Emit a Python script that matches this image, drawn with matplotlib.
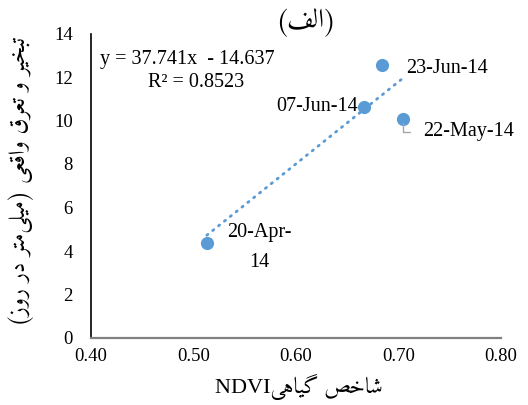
import matplotlib
matplotlib.use("Agg")
import matplotlib.pyplot as plt
import numpy as np

# data
dates = ["20-Apr-\n14", "07-Jun-14", "23-Jun-14", "22-May-14"]
ndvi = [0.513, 0.666, 0.684, 0.704]
et = [4.35, 10.63, 12.55, 10.06]
slope = 37.741
intercept = -14.637
r2 = 0.8523
xticks = [0.40, 0.50, 0.60, 0.70, 0.80]
yticks = [0, 2, 4, 6, 8, 10, 12, 14]

title_txt = "(الف)"
xlabel_txt = "شاخص گیاهی"
ylabel_txt = "تبخیر و تعرق واقعی (میلی\u200cمتر در روز)"

# matplotlib has no arabic shaping, so do it by hand with presentation forms
# (isolated, final, initial, medial); right-joining letters have only two
FORMS = {
    "\u0627": ("\uFE8D", "\uFE8E"),
    "\u0628": ("\uFE8F", "\uFE90", "\uFE91", "\uFE92"),
    "\u062A": ("\uFE95", "\uFE96", "\uFE97", "\uFE98"),
    "\u062E": ("\uFEA5", "\uFEA6", "\uFEA7", "\uFEA8"),
    "\u062F": ("\uFEA9", "\uFEAA"),
    "\u0631": ("\uFEAD", "\uFEAE"),
    "\u0632": ("\uFEAF", "\uFEB0"),
    "\u0634": ("\uFEB5", "\uFEB6", "\uFEB7", "\uFEB8"),
    "\u0635": ("\uFEB9", "\uFEBA", "\uFEBB", "\uFEBC"),
    "\u0639": ("\uFEC9", "\uFECA", "\uFECB", "\uFECC"),
    "\u0641": ("\uFED1", "\uFED2", "\uFED3", "\uFED4"),
    "\u0642": ("\uFED5", "\uFED6", "\uFED7", "\uFED8"),
    "\u0644": ("\uFEDD", "\uFEDE", "\uFEDF", "\uFEE0"),
    "\u0645": ("\uFEE1", "\uFEE2", "\uFEE3", "\uFEE4"),
    "\u0646": ("\uFEE5", "\uFEE6", "\uFEE7", "\uFEE8"),
    "\u0647": ("\uFEE9", "\uFEEA", "\uFEEB", "\uFEEC"),
    "\u0648": ("\uFEED", "\uFEEE"),
    "\u06AF": ("\uFB92", "\uFB93", "\uFB94", "\uFB95"),
    "\u06CC": ("\uFBFC", "\uFBFD", "\uFBFE", "\uFBFF"),
}


def rtl(text):
    out = []
    for i, ch in enumerate(text):
        if ch not in FORMS:
            if ch != "\u200c":
                out.append(ch)
            continue
        forms = FORMS[ch]
        prev = text[i - 1] if i > 0 else ""
        nxt = text[i + 1] if i + 1 < len(text) else ""
        jp = prev in FORMS and len(FORMS[prev]) == 4
        jn = nxt in FORMS and len(forms) == 4
        if jp and jn:
            out.append(forms[3])
        elif jp:
            out.append(forms[1])
        elif jn:
            out.append(forms[2])
        else:
            out.append(forms[0])
    swap = {"(": ")", ")": "("}
    return "".join(swap.get(c, c) for c in out[::-1])


plt.rcParams['font.family'] = ['Liberation Serif', 'Amiri']
blue = '#5B9BD5'
fs = 14.5

fig = plt.figure(figsize=(5.28, 4.05), dpi=100)
ax = fig.add_axes([91 / 528, 1 - 338 / 405, 410 / 528, 304.5 / 405])

ax.scatter(ndvi, et, s=90, color=blue, zorder=3, linewidths=0)

xs = np.array([min(ndvi), max(ndvi)])
ax.plot(xs, slope * xs + intercept, color=blue, lw=2,
        linestyle=(0, (0.5, 2.2)), dash_capstyle='round', zorder=2)

# point labels
ax.annotate(dates[0], (ndvi[0], et[0]), xytext=(38, -3), textcoords='offset points',
            ha='center', va='center', fontsize=fs, linespacing=1.75)
ax.annotate(dates[1], (ndvi[1], et[1]), xytext=(-4, 0), textcoords='offset points',
            ha='right', va='center', fontsize=fs, zorder=1)
ax.annotate(dates[2], (ndvi[2], et[2]), xytext=(17, -2.5), textcoords='offset points',
            ha='left', va='center', fontsize=fs)
ax.annotate(dates[3], (ndvi[3], et[3]), xytext=(15, -9), textcoords='offset points',
            ha='left', va='center', fontsize=fs,
            arrowprops=dict(arrowstyle='-', color='#A6A6A6', lw=1,
                            connectionstyle='angle,angleA=0,angleB=90,rad=0',
                            relpos=(0, 0.5), shrinkA=8, shrinkB=3))

ax.text(0.022, 0.915, "y = %.3fx  - %.3f" % (slope, -intercept), transform=ax.transAxes,
        ha='left', va='center', fontsize=fs)
ax.text(0.14, 0.838, "R² = %.4f" % r2, transform=ax.transAxes,
        ha='left', va='center', fontsize=fs)

ax.set_xlim(0.4, 0.8)
ax.set_ylim(0, 14)
ax.set_xticks(xticks)
ax.set_xticklabels(["%.2f" % v for v in xticks])
ax.set_yticks(yticks)
ax.tick_params(length=0, labelsize=13.5)
ax.tick_params(axis='y', pad=13)
ax.tick_params(axis='x', pad=7)

for s in ['top', 'right']:
    ax.spines[s].set_visible(False)
ax.spines['left'].set_color('black')
ax.spines['left'].set_linewidth(1.2)
ax.spines['bottom'].set_color('#808080')
ax.spines['bottom'].set_linewidth(1.6)

fig.text(306 / 528, 1 - 22 / 405, rtl(title_txt), family=['Amiri'],
         fontsize=19, ha='center', va='center')
fig.text(299 / 528, 1 - 387 / 405, "NDVI" + rtl(xlabel_txt),
         family=['Liberation Serif', 'Amiri'], fontsize=16, ha='center', va='center')
fig.text(21 / 528, 1 - 181 / 405, rtl(ylabel_txt), family=['Amiri'],
         fontsize=16.5, ha='center', va='center', rotation=90)

fig.savefig("out.png", dpi=100)
